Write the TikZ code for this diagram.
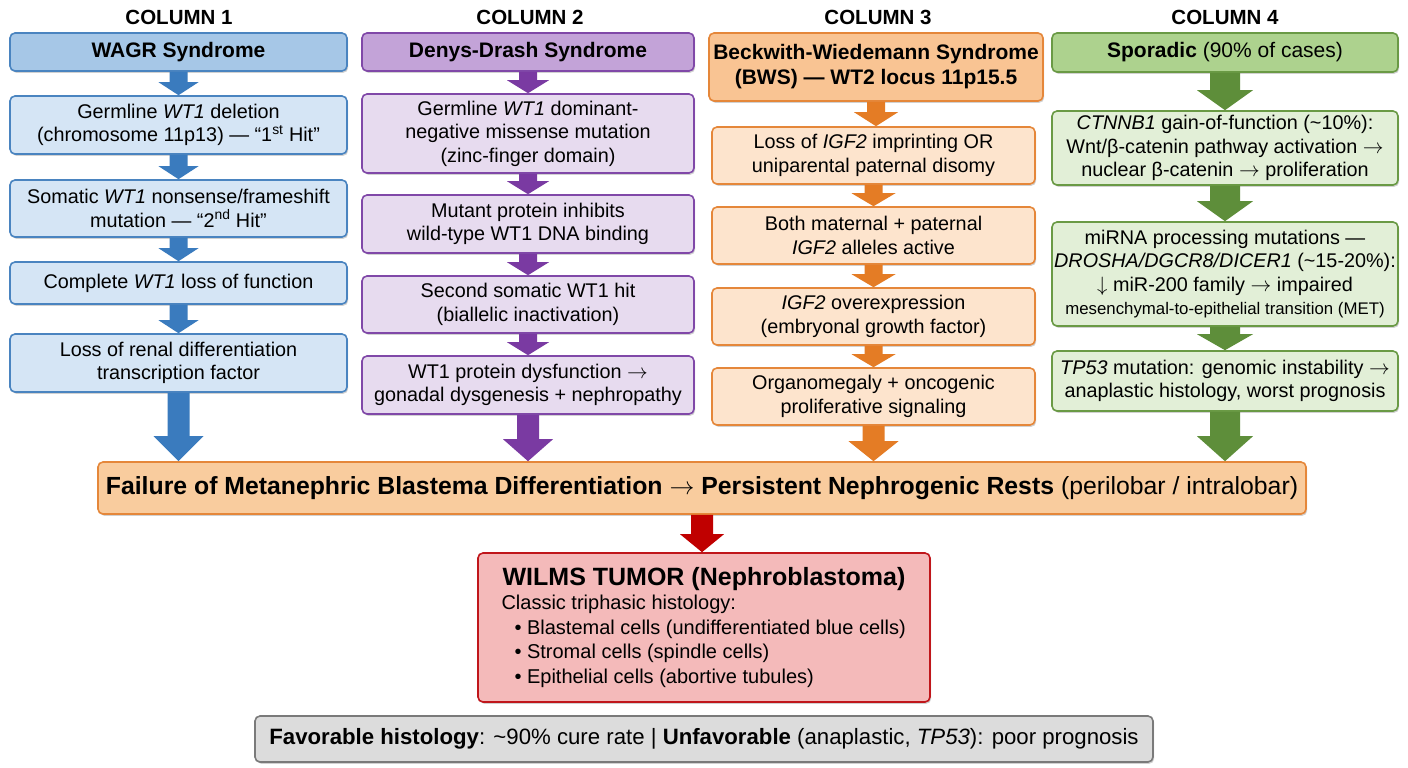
\documentclass[tikz,border=0pt]{standalone}
\usepackage{fontspec}
\setmainfont{Liberation Sans}
\usetikzlibrary{shadows,calc}
\definecolor{bluD}{HTML}{4A84C0}\definecolor{bluH}{HTML}{A6C7E7}\definecolor{bluL}{HTML}{D5E5F5}\definecolor{bluA}{HTML}{3A7BBE}
\definecolor{purD}{HTML}{8048A8}\definecolor{purH}{HTML}{C3A3D8}\definecolor{purL}{HTML}{E7DBEF}\definecolor{purA}{HTML}{7A3AA2}
\definecolor{oraD}{HTML}{E5873A}\definecolor{oraH}{HTML}{F9C493}\definecolor{oraL}{HTML}{FDE4CD}\definecolor{oraA}{HTML}{E47C25}
\definecolor{griD}{HTML}{6A9A45}\definecolor{griH}{HTML}{ADD28E}\definecolor{griL}{HTML}{E2EFD7}\definecolor{griA}{HTML}{5E8E3A}
\definecolor{bigF}{HTML}{F9CC9E}\definecolor{redD}{HTML}{C0161B}\definecolor{redF}{HTML}{F4BABA}\definecolor{redA}{HTML}{C00000}
\definecolor{gryF}{HTML}{DCDCDC}\definecolor{gryD}{HTML}{7A7A7A}
\newcommand{\fs}[2]{\fontsize{#1}{#2}\selectfont}
\newcommand{\ra}{\ensuremath{\rightarrow}}
\newcommand{\da}{\ensuremath{\downarrow}}
\newcommand{\barrow}[6]{\fill[#1] let \p1=(#2.south), \p2=(#3.north) in
  (\x1-#4pt,\y1) -- (\x1+#4pt,\y1) -- (\x1+#4pt,\y2+#6pt) -- (\x1+#5pt,\y2+#6pt) -- (\x1,\y2)
  -- (\x1-#5pt,\y2+#6pt) -- (\x1-#4pt,\y2+#6pt) -- cycle;}
\tikzset{
  base/.style={draw, rounded corners=5pt, line width=1.6pt, align=center, inner sep=2pt,
    drop shadow={shadow xshift=1.2pt, shadow yshift=-1.8pt, opacity=0.18, fill=black}},
  coltitle/.style={font=\fs{20.5}{24}\bfseries},
  hd/.style={base, font=\fs{21}{25}\bfseries},
  bd/.style={base, font=\fs{19.8}{23.5}},
  b1/.style={draw=bluD, fill=bluL}, h1/.style={draw=bluD, fill=bluH},
  b2/.style={draw=purD, fill=purL}, h2/.style={draw=purD, fill=purH},
  b3/.style={draw=oraD, fill=oraL}, h3/.style={draw=oraD, fill=oraH},
  b4/.style={draw=griD, fill=griL}, h4/.style={draw=griD, fill=griH},
}
\begin{document}
\begin{tikzpicture}[x=1pt,y=1pt]
\fill[white] (0,0) rectangle (1408,-768);
\useasboundingbox (0,0) rectangle (1408,-768);

% column titles
\node[coltitle] (t1) at (179,-17) {COLUMN 1};
\node[coltitle] (t2) at (530,-17) {COLUMN 2};
\node[coltitle] (t3) at (878,-17) {COLUMN 3};
\node[coltitle] (t4) at (1225,-17) {COLUMN 4};

% column 1
\node[hd,h1,minimum width=337pt,minimum height=38pt] (c1a) at (178.5,-52) {WAGR Syndrome};
\node[bd,b1,minimum width=337pt,minimum height=58pt] (c1b) at (178.5,-125) {Germline \textit{WT1} deletion\\(chromosome 11p13) — “1\textsuperscript{st} Hit”};
\node[bd,b1,minimum width=337pt,minimum height=57pt] (c1c) at (178.5,-208.5) {Somatic \textit{WT1} nonsense/frameshift\\mutation — “2\textsuperscript{nd} Hit”};
\node[bd,b1,minimum width=337pt,minimum height=42pt] (c1d) at (178.5,-283) {Complete \textit{WT1} loss of function};
\node[bd,b1,minimum width=337pt,minimum height=58pt] (c1e) at (178.5,-363) {Loss of renal differentiation\\transcription factor};

% column 2
\node[hd,h2,minimum width=332pt,minimum height=38pt] (c2a) at (528,-52) {Denys-Drash Syndrome};
\node[bd,b2,minimum width=332pt,minimum height=79pt] (c2b) at (528,-133.5) {Germline \textit{WT1} dominant-\\negative missense mutation\\(zinc-finger domain)};
\node[bd,b2,minimum width=332pt,minimum height=58pt] (c2c) at (528,-224) {Mutant protein inhibits\\wild-type WT1 DNA binding};
\node[bd,b2,minimum width=332pt,minimum height=57pt] (c2d) at (528,-304.5) {Second somatic WT1 hit\\(biallelic inactivation)};
\node[bd,b2,minimum width=332pt,minimum height=58pt] (c2e) at (528,-385) {WT1 protein dysfunction \ra\\gonadal dysgenesis + nephropathy};

% column 3
\node[hd,h3,minimum width=334pt,minimum height=68pt] (c3a) at (876,-67) {Beckwith-Wiedemann Syndrome\\(BWS) — WT2 locus 11p15.5};
\node[bd,b3,minimum width=323pt,minimum height=57pt] (c3b) at (873.5,-155.5) {Loss of \textit{IGF2} imprinting OR\\uniparental paternal disomy};
\node[bd,b3,minimum width=323pt,minimum height=57pt] (c3c) at (873.5,-235.5) {Both maternal + paternal\\\textit{IGF2} alleles active};
\node[bd,b3,minimum width=323pt,minimum height=57pt] (c3d) at (873.5,-316.5) {\textit{IGF2} overexpression\\(embryonal growth factor)};
\node[bd,b3,minimum width=323pt,minimum height=57pt] (c3e) at (873.5,-396.5) {Organomegaly + oncogenic\\proliferative signaling};

% column 4
\node[hd,h4,minimum width=346pt,minimum height=39pt] (c4a) at (1225,-52.5) {Sporadic \mdseries(90\% of cases)};
\node[bd,b4,minimum width=346pt,minimum height=74pt] (c4b) at (1225,-148) {\textit{CTNNB1} gain-of-function (\textasciitilde10\%):\\Wnt/β-catenin pathway activation \ra\\nuclear β-catenin \ra\ proliferation};
\node[bd,b4,minimum width=346pt,minimum height=104pt] (c4c) at (1225,-274) {miRNA processing mutations —\\\textit{DROSHA/DGCR8/DICER1} (\textasciitilde15-20\%):\\\da\ miR-200 family \ra\ impaired\\{\fs{16.8}{20}\selectfont mesenchymal-to-epithelial transition (MET)}};
\node[bd,b4,minimum width=346pt,minimum height=60pt] (c4d) at (1225,-381) {\textit{TP53} mutation: genomic instability \ra\\anaplastic histology, worst prognosis};

% convergence box
\node[base,draw=oraD,fill=bigF,minimum width=1208pt,minimum height=52pt,font=\fs{24.8}{28}] (fail) at (702,-488)
  {\textbf{Failure of Metanephric Blastema Differentiation \ra\ Persistent Nephrogenic Rests} (perilobar / intralobar)};

% Wilms tumor
\node[base,draw=redD,fill=redF,minimum width=452pt,minimum height=149pt,align=left,font=\fs{20}{24.5}] (wilms) at (704,-627.5)
  {\makebox[405pt][c]{\fs{25}{29}\bfseries WILMS TUMOR (Nephroblastoma)}\\
   Classic triphasic histology:\\
   \hspace*{13pt}• Blastemal cells (undifferentiated blue cells)\\
   \hspace*{13pt}• Stromal cells (spindle cells)\\
   \hspace*{13pt}• Epithelial cells (abortive tubules)};

% prognosis
\node[base,draw=gryD,fill=gryF,minimum width=898pt,minimum height=46pt,font=\fs{22.2}{26}] (prog) at (704,-739)
  {\textbf{Favorable histology}: \textasciitilde90\% cure rate | \textbf{Unfavorable} (anaplastic, \textit{TP53}): poor prognosis};

% arrows column 1
\barrow{bluA}{c1a}{c1b}{9}{20}{13}
\barrow{bluA}{c1b}{c1c}{9}{20}{13}
\barrow{bluA}{c1c}{c1d}{9}{20}{13}
\barrow{bluA}{c1d}{c1e}{9}{20}{13}
\barrow{bluA}{c1e}{fail}{11}{25}{25}
% column 2
\barrow{purA}{c2a}{c2b}{9}{21}{13}
\barrow{purA}{c2b}{c2c}{9}{21}{13}
\barrow{purA}{c2c}{c2d}{9}{21}{13}
\barrow{purA}{c2d}{c2e}{9}{21}{13}
\barrow{purA}{c2e}{fail}{11}{25}{22}
% column 3
\barrow{oraA}{c3a}{c3b}{9}{22}{14}
\barrow{oraA}{c3b}{c3c}{9}{22}{13}
\barrow{oraA}{c3c}{c3d}{9}{22}{13}
\barrow{oraA}{c3d}{c3e}{9}{22}{13}
\barrow{oraA}{c3e}{fail}{11}{25}{20}
% column 4
\barrow{griA}{c4a}{c4b}{15}{28}{20}
\barrow{griA}{c4b}{c4c}{15}{28}{20}
\barrow{griA}{c4c}{c4d}{15}{28}{16}
\barrow{griA}{c4d}{fail}{15}{28}{25}
% to tumor
\barrow{redA}{fail}{wilms}{11}{22}{18}
\end{tikzpicture}
\end{document}
